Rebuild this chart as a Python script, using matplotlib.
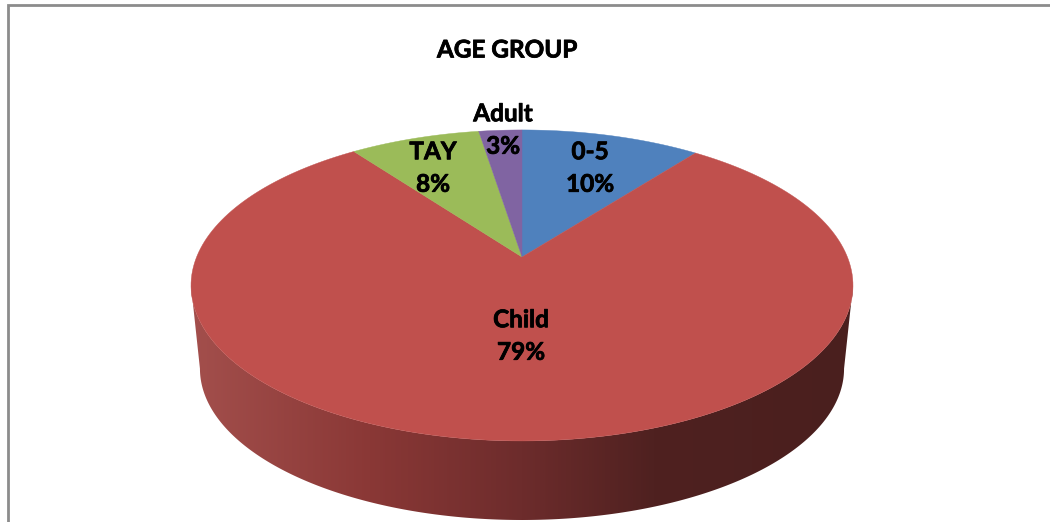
#3D style pie chart, age group split
import numpy as np
import matplotlib
matplotlib.use('Agg')
from matplotlib import pyplot as plt
from matplotlib import patheffects
from matplotlib.patches import Polygon
from matplotlib.colors import LinearSegmentedColormap

categories = ['0-5', 'Child', 'TAY', 'Adult']
shares = [10.45, 79.45, 7.59, 2.51]
colors = ['#4F81BD', '#C0504D', '#9BBB59', '#8064A2']

#pie geometry in pixels, k is the perspective strength
cx, cy = 522, 257
A, B, k = 325.4, 150.3, 0.183
depth, shrink = 84, 0.973

plt.rcParams['font.family'] = ['Lato', 'DejaVu Sans']
fig = plt.figure(figsize=(10.5, 5.22), dpi=100)
ax = fig.add_axes([0, 0, 1, 1])
ax.set_xlim(0, 1050)
ax.set_ylim(522, 0)
ax.axis('off')

def project(theta, scale=1.0, drop=0):
	#theta is clockwise from 12 o'clock, pixel y grows downwards
	x = np.sin(theta)
	y = np.cos(theta)
	w = 1 + k * y
	return np.column_stack((cx + scale * A * x / w, cy + drop - scale * B * y / w))

#frame, only top and left edges are inside the crop
ax.plot([8, 8, 1050], [522, 5, 5], color='#8c8c8c', lw=2, solid_joinstyle='miter', zorder=1)

#side wall, silhouette runs between the widest points of both discs
t0 = np.arccos(-k)
front = np.linspace(t0, 2 * np.pi - t0, 300)
outline = np.vstack((project(front), project(front[::-1], shrink, depth)))
side = Polygon(outline, closed=True, fc='none', ec='none', transform=ax.transData)
ax.add_patch(side)
wall = LinearSegmentedColormap.from_list('wall', [
	(0.0, '#a34f4c'), (0.27, '#8a3836'), (0.50, '#6d2c2c'),
	(0.70, '#4f2120'), (1.0, '#4a1f1e')])
grad = np.linspace(0, 1, 512).reshape(1, -1)
im = ax.imshow(grad, cmap=wall, extent=(191, 853, 522, 250), aspect='auto', zorder=2)
im.set_clip_path(side)
ax.set_xlim(0, 1050)
ax.set_ylim(522, 0)

#top face wedges
start = 0.0
for share, color in zip(shares, colors):
	end = start + share / sum(shares) * 2 * np.pi
	arc = project(np.linspace(start, end, 200))
	ax.add_patch(Polygon(np.vstack(([cx, cy], arc)), closed=True, fc=color, ec=color, lw=0.3, zorder=3))
	start = end

#labels, stroke thickens the text since the bold face does not show up
heavy = [patheffects.withStroke(linewidth=0.55, foreground='black')]
label_xy = [(590, 168), (521, 336), (433, 168), (503, 130)]
for name, share, (lx, ly) in zip(categories, shares, label_xy):
	ax.text(lx, ly, f'{name}\n{round(share)}%', ha='center', va='center', fontsize=17.5,
			fontweight='bold', color='black', linespacing=1.5, zorder=4, path_effects=heavy)

ax.text(507, 50, 'AGE GROUP', ha='center', va='center', fontsize=17.5, fontweight='bold',
		color='black', zorder=4, path_effects=heavy)

fig.savefig('out.png', dpi=100)
